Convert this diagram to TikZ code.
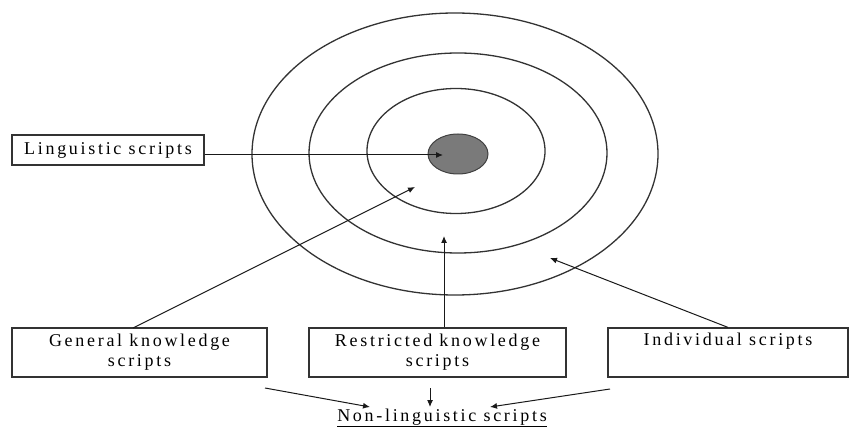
\documentclass[tikz,border=0pt]{standalone}
\usepackage{fontspec}
\setmainfont{Liberation Serif}[LetterSpace=15]
\usetikzlibrary{arrows.meta,shapes.geometric}
\tikzset{
  ring/.style={ellipse, draw=black!80, line width=1.3pt, inner sep=0pt},
  box/.style={draw=black!80, line width=1.2pt, inner sep=0pt, align=center},
  arr/.style={draw=black!90, line width=1pt, -{Latex[length=7pt,width=6pt]}},
}
\begin{document}
\begin{tikzpicture}[x=1pt,y=-1pt, font=\fontsize{18}{20}\selectfont]
\useasboundingbox (0,0) rectangle (850,427);
% rings
\node[ring, minimum width=406, minimum height=282] (outer) at (455,154) {};
\node[ring, minimum width=298, minimum height=200] (middle) at (458,153) {};
\node[ring, minimum width=178, minimum height=125] (inner) at (456,151) {};
\node[ellipse, draw=black!75, fill=black!52, line width=1pt, inner sep=0pt, minimum width=60, minimum height=40] (core) at (458,154) {};
% boxes
\node[box, minimum width=192, minimum height=30] (lb) at (108,150) {Linguistic scripts};
\node[box, minimum width=255, minimum height=49] (gk) at (139.5,352.5) {General knowledge\\scripts};
\node[box, minimum width=257, minimum height=49] (rk) at (437.5,352.5) {Restricted knowledge\\scripts};
\node[box, minimum width=240, minimum height=49] (ik) at (728,352.5) {Individual scripts\\\strut};
\node[anchor=base] (nl) at (442,421) {\underline{Non-linguistic scripts}};
% arrow tips / free ends
\coordinate (tL) at (443,155);
\coordinate (tG) at (415,187);
\coordinate (sG) at (133,328);
\coordinate (tR) at (444,236);
\coordinate (tI) at (550,258);
\coordinate (bG) at (265,388);
\coordinate (eG) at (370,407);
\coordinate (bR) at (430,388);
\coordinate (eR) at (430,407);
\coordinate (bI) at (610,389);
\coordinate (eI) at (490,407);
% connectors
\draw[arr] (lb.east |- tL) -- (tL);
\draw[arr] (sG) -- (tG);
\draw[arr] (rk.north -| tR) -- (tR);
\draw[arr] (ik.north) -- (tI);
\draw[arr] (bG) -- (eG);
\draw[arr] (bR) -- (eR);
\draw[arr] (bI) -- (eI);
\end{tikzpicture}
\end{document}
